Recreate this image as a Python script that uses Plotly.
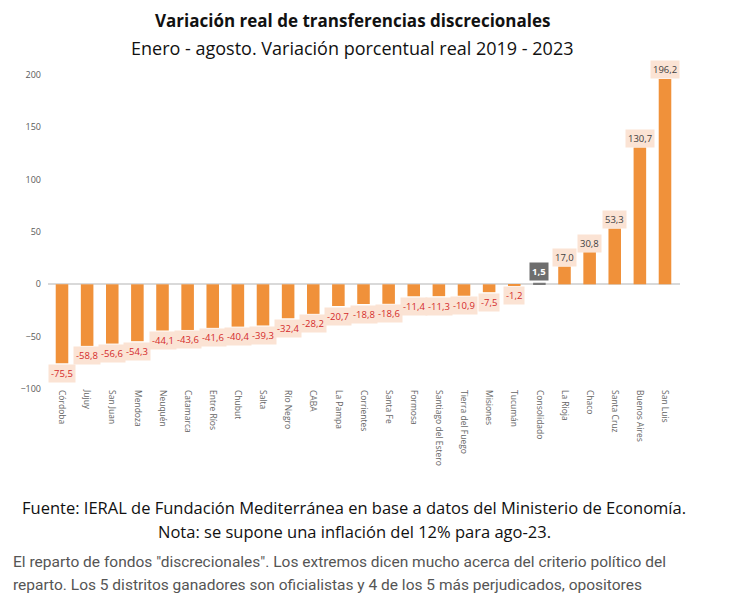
import plotly.graph_objects as go

provincias = ["Córdoba", "Jujuy", "San Juan", "Mendoza", "Neuquén", "Catamarca",
              "Entre Ríos", "Chubut", "Salta", "Río Negro", "CABA", "La Pampa",
              "Corrientes", "Santa Fe", "Formosa", "Santiago del Estero",
              "Tierra del Fuego", "Misiones", "Tucumán", "Consolidado", "La Rioja",
              "Chaco", "Santa Cruz", "Buenos Aires", "San Luis"]
variacion = [-75.5, -58.8, -56.6, -54.3, -44.1, -43.6, -41.6, -40.4, -39.3, -32.4,
             -28.2, -20.7, -18.8, -18.6, -11.4, -11.3, -10.9, -7.5, -1.2, 1.5,
             17.0, 30.8, 53.3, 130.7, 196.2]
y_ticks = [-100, -50, 0, 50, 100, 150, 200]

naranja = "#f0913a"
gris = "#7a7a7a"
colores = [gris if p == "Consolidado" else naranja for p in provincias]

fig = go.Figure()
fig.add_trace(go.Bar(x=provincias, y=variacion, marker=dict(color=colores, line_width=0),
                     width=0.5, hoverinfo="x+y"))

for p, v in zip(provincias, variacion):
    txt = f"{v:.1f}".replace(".", ",")
    if p == "Consolidado":
        fig.add_annotation(x=p, y=v, text=f"<b>{txt}</b>", showarrow=False, yshift=11,
                           bgcolor="#6e6e6e", font=dict(color="white", size=9.5),
                           borderpad=2)
    elif v < 0:
        fig.add_annotation(x=p, y=v, text=txt, showarrow=False, yshift=-10,
                           bgcolor="#fbe3d4", font=dict(color="#d42a2a", size=9.5),
                           borderpad=2)
    else:
        fig.add_annotation(x=p, y=v, text=txt, showarrow=False, yshift=9,
                           bgcolor="#fbe3d4", font=dict(color="#404040", size=9.5),
                           borderpad=2)

# títulos
fig.add_annotation(xref="paper", yref="paper", x=0.5, y=1, yshift=55, xshift=-12,
                   yanchor="middle",
                   text="<b>Variación real de transferencias discrecionales</b>",
                   showarrow=False, font=dict(size=17, color="#111"))
fig.add_annotation(xref="paper", yref="paper", x=0.5, y=1, yshift=27, xshift=-12,
                   yanchor="middle",
                   text="Enero - agosto. Variación porcentual real 2019 - 2023",
                   showarrow=False, font=dict(size=18, color="#111"))

# fuente y nota
fig.add_annotation(xref="paper", yref="paper", x=0.5, y=0, yshift=-118, xshift=-10,
                   yanchor="middle",
                   text="Fuente: IERAL de Fundación Mediterránea en base a datos del Ministerio de Economía.",
                   showarrow=False, font=dict(size=16.5, color="#111"))
fig.add_annotation(xref="paper", yref="paper", x=0.5, y=0, yshift=-142, xshift=-10,
                   yanchor="middle",
                   text="Nota: se supone una inflación del 12% para ago-23.",
                   showarrow=False, font=dict(size=16.5, color="#111"))

# texto de la nota periodística
fig.add_annotation(xref="paper", yref="paper", x=0, xshift=-37, y=0, yshift=-173,
                   xanchor="left", yanchor="middle", align="left",
                   text='El reparto de fondos "discrecionales". Los extremos dicen mucho acerca del criterio político del',
                   showarrow=False, font=dict(family="Roboto", size=15.5, color="#555"))
fig.add_annotation(xref="paper", yref="paper", x=0, xshift=-37, y=0, yshift=-196,
                   xanchor="left", yanchor="middle", align="left",
                   text="reparto. Los 5 distritos ganadores son oficialistas y 4 de los 5 más perjudicados, opositores",
                   showarrow=False, font=dict(family="Roboto", size=15.5, color="#555"))

fig.update_layout(
    width=730, height=610,
    margin=dict(l=37, r=58, t=67, b=229),
    paper_bgcolor="white", plot_bgcolor="white",
    showlegend=False,
    font=dict(family="Open Sans", color="#595959"),
    xaxis=dict(tickangle=90, tickfont=dict(size=8.5, color="#666666"),
               showgrid=False, showline=False, ticks="", fixedrange=True),
    yaxis=dict(range=[-100, 200], tickvals=y_ticks, showgrid=False, zeroline=True,
               zerolinecolor="#d9d9d9", zerolinewidth=1.5,
               tickfont=dict(size=9, color="#595959"), ticklabelstandoff=6),
)

fig.write_html("out.html")
